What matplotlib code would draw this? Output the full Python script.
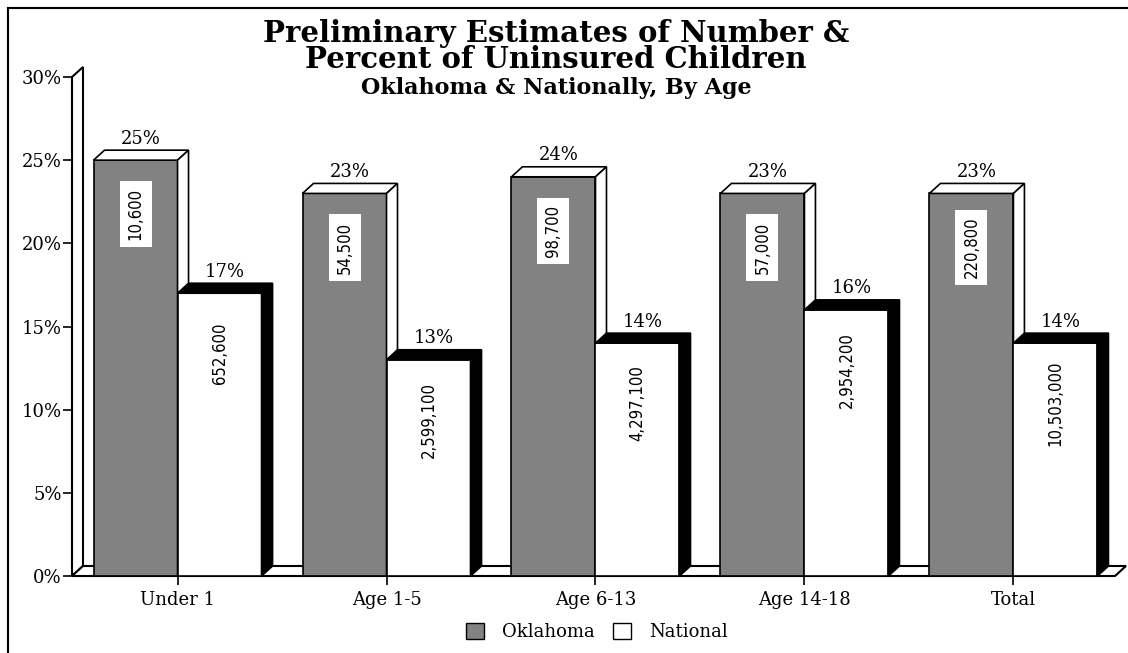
import matplotlib
matplotlib.use('Agg')
import matplotlib.pyplot as plt
from matplotlib.patches import Polygon, Patch
from matplotlib.lines import Line2D

# 数据
categories = ['Under 1', 'Age 1-5', 'Age 6-13', 'Age 14-18', 'Total']
oklahoma_pct = [25, 23, 24, 23, 23]
national_pct = [17, 13, 14, 16, 14]
oklahoma_num = ['10,600', '54,500', '98,700', '57,000', '220,800']
national_num = ['652,600', '2,599,100', '4,297,100', '2,954,200', '10,503,000']
yticks = [0, 5, 10, 15, 20, 25, 30]
ytick_labels = ['0%', '5%', '10%', '15%', '20%', '25%', '30%']

gray = '#828282'
serif = 'DejaVu Serif'

fig = plt.figure(figsize=(11.28, 6.53), dpi=100)
ax = fig.add_axes([72 / 1128, 77 / 653, 1043 / 1128, 499 / 653])
x0, x1 = -0.505, 4.486
ax.set_xlim(x0, x1)
ax.set_ylim(0, 30)
for s in ax.spines.values():
    s.set_visible(False)

# 立体效果的偏移量 (约 11px, 10px)
dx = 11 / 209
dy = 10 / (499 / 30)
w = 0.402

# 左墙和地面
wall = Polygon([(x0, 0), (x0, 30), (x0 + dx, 30 + dy), (x0 + dx, dy)],
               closed=True, facecolor='white', edgecolor='black', lw=1.5,
               clip_on=False, zorder=1)
floor = Polygon([(x0, 0), (x1, 0), (x1 + dx, dy), (x0 + dx, dy)],
                closed=True, facecolor='white', edgecolor='black', lw=1.5,
                clip_on=False, zorder=1)
ax.add_patch(wall)
ax.add_patch(floor)

for i in range(len(categories)):
    z = 3 + i * 2
    # Oklahoma 柱子
    xl = i - w
    v = oklahoma_pct[i]
    ax.bar(xl, v, w, align='edge', facecolor=gray, edgecolor='black',
           lw=1.2, zorder=z)
    top = Polygon([(xl, v), (xl + dx, v + dy), (xl + w + dx, v + dy), (xl + w, v)],
                  closed=True, facecolor='white', edgecolor='black', lw=1.2,
                  clip_on=False, zorder=z)
    side = Polygon([(xl + w, 0), (xl + w + dx, dy), (xl + w + dx, v + dy), (xl + w, v)],
                   closed=True, facecolor='white', edgecolor='black', lw=1.2,
                   clip_on=False, zorder=z)
    ax.add_patch(top)
    ax.add_patch(side)
    ax.text(xl + w / 2 + dx / 2, v + dy + 0.15, '%d%%' % v, ha='center',
            va='bottom', fontsize=13, family=serif, zorder=z + 2)
    ax.text(xl + w / 2, v - 3.25, oklahoma_num[i], rotation=90, ha='center',
            va='center', fontsize=12, family='DejaVu Sans', fontstretch='condensed',
            zorder=z, bbox=dict(facecolor='white', edgecolor='none', pad=5))

    # National 柱子
    xl = i
    v = national_pct[i]
    ax.bar(xl, v, w, align='edge', facecolor='white', edgecolor='black',
           lw=1.2, zorder=z + 1)
    top = Polygon([(xl, v), (xl + dx, v + dy), (xl + w + dx, v + dy), (xl + w, v)],
                  closed=True, facecolor='black', edgecolor='black', lw=1.2,
                  clip_on=False, zorder=z + 1)
    side = Polygon([(xl + w, 0), (xl + w + dx, dy), (xl + w + dx, v + dy), (xl + w, v)],
                   closed=True, facecolor='black', edgecolor='black', lw=1.2,
                   clip_on=False, zorder=z + 1)
    ax.add_patch(top)
    ax.add_patch(side)
    ax.text(xl + w / 2 + dx / 2, v + dy + 0.15, '%d%%' % v, ha='center',
            va='bottom', fontsize=13, family=serif, zorder=z + 2)
    ax.text(xl + w / 2, v - 3.6, national_num[i], rotation=90, ha='center',
            va='center', fontsize=12, family='DejaVu Sans', fontstretch='condensed',
            zorder=z + 1)

# 坐标轴刻度
ax.set_yticks(yticks)
ax.set_yticklabels(ytick_labels, fontsize=13, family=serif)
ax.set_xticks(range(len(categories)))
ax.set_xticklabels(categories, fontsize=13, family=serif)
ax.tick_params(axis='y', length=6.5, width=1.2, pad=1)
ax.tick_params(axis='x', length=6.5, width=1.2, pad=4)

# 标题
fig.text(556 / 1128, 1 - 33 / 653, 'Preliminary Estimates of Number &',
         ha='center', va='center', fontsize=21, fontweight='bold', family=serif)
fig.text(556 / 1128, 1 - 60 / 653, 'Percent of Uninsured Children',
         ha='center', va='center', fontsize=21, fontweight='bold', family=serif)
fig.text(556 / 1128, 1 - 88 / 653, 'Oklahoma & Nationally, By Age',
         ha='center', va='center', fontsize=16, fontweight='bold', family=serif)

# 图例
handles = [Patch(facecolor=gray, edgecolor='black'),
           Patch(facecolor='white', edgecolor='black')]
fig.legend(handles, ['Oklahoma', 'National'], loc='center',
           bbox_to_anchor=(597 / 1128, 21 / 653), ncol=2, frameon=False,
           handlelength=1.0, handleheight=1.0, handletextpad=1.0,
           columnspacing=1.0, prop={'family': serif, 'size': 13})

# 外框线
fig.add_artist(Line2D([8 / 1128, 8 / 1128], [0, 1 - 8 / 653],
                      transform=fig.transFigure, color='black', lw=1.5))
fig.add_artist(Line2D([8 / 1128, 1], [1 - 8 / 653, 1 - 8 / 653],
                      transform=fig.transFigure, color='black', lw=1.5))

plt.savefig('out.png', dpi=100)
